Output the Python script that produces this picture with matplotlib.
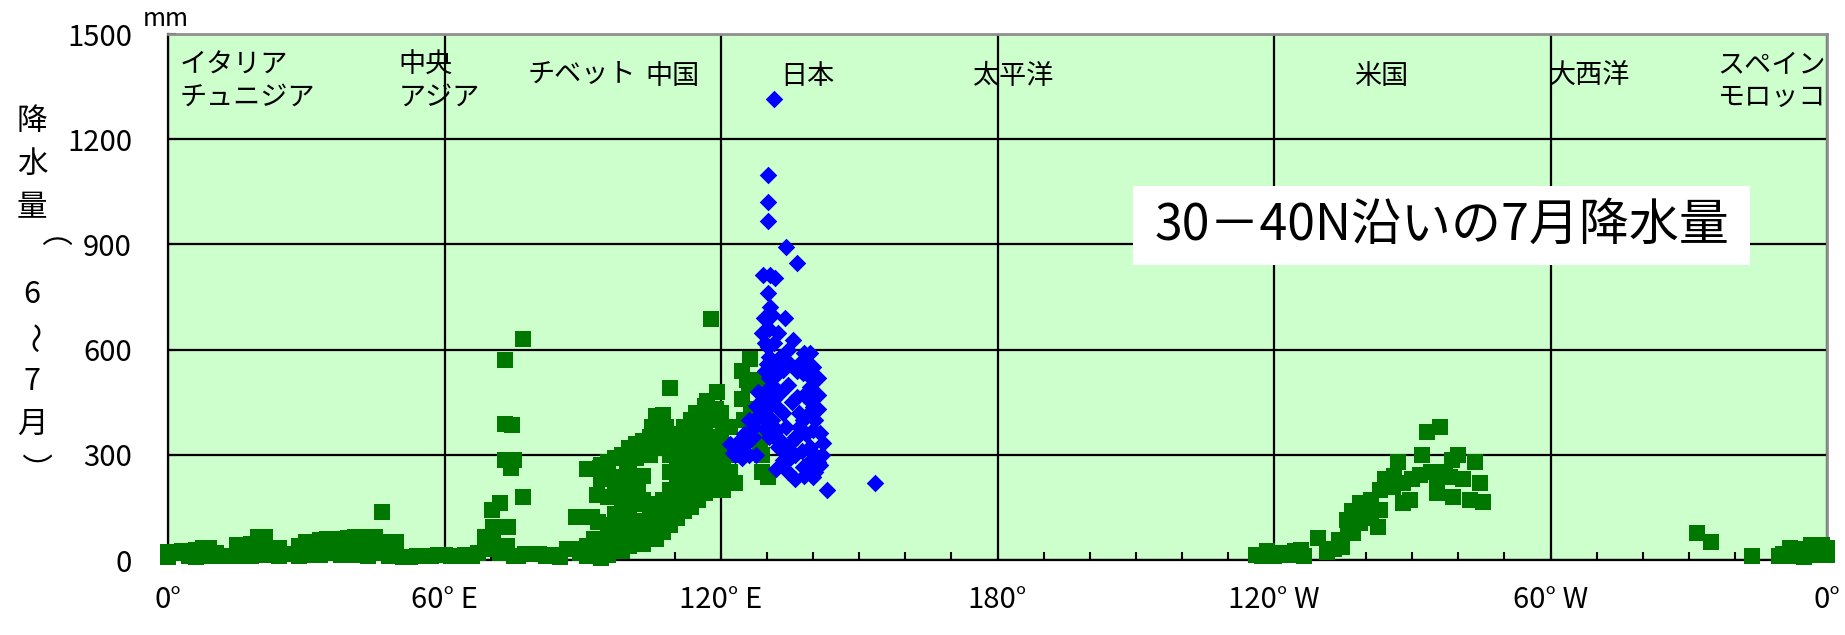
import matplotlib
matplotlib.use("Agg")
import matplotlib.pyplot as plt
from matplotlib.patches import Rectangle
from matplotlib.ticker import MultipleLocator

plt.rcParams['font.family'] = ['Noto Sans CJK JP', 'DejaVu Sans']

# --- data (longitude east 0-360, mm) ------------------------------------------
# Europe / N. Africa / Middle East, 0-62E
europe_lon = [0, 0, 1.5, 3, 4.5, 6, 6, 7.5, 9, 9, 10.5, 12, 13.5, 15, 15, 16.5, 18, 18,
              19.5, 19.5, 21, 21, 22.5, 24, 24, 25.5, 27, 28.5, 28.5, 30, 30, 31.5, 33, 33,
              34.5, 34.5, 36, 37.5, 37.5, 39, 39, 40.5, 40.5, 42, 42, 43.5, 43.5, 45, 45,
              46.4, 46.5, 48, 48, 49.5, 51, 52.5, 54, 55.5, 57, 58.5, 60, 61.5]
europe_mm = [8, 22, 20, 26, 10, 28, 8, 35, 35, 10, 20, 10, 12, 42, 12, 12, 45, 10,
             66, 20, 66, 15, 35, 35, 10, 18, 18, 40, 10, 52, 15, 50, 56, 15,
             59, 20, 59, 59, 15, 62, 20, 66, 15, 66, 20, 66, 12, 66, 20,
             136, 50, 50, 10, 50, 8, 8, 10, 12, 12, 15, 15, 12]

# Central Asia / Tibet, 62-92E
asia_lon = [63, 64.5, 66, 67.3, 68.8, 70.5, 70.5, 72, 73.8, 70.2, 72, 73.1, 74.6, 73.1,
            75.1, 74.4, 73.2, 77.1, 77.1, 70, 72, 73.5, 75, 76, 77.5, 79, 80.5, 82,
            83.5, 85, 86.5, 88, 89.5, 88.5, 90.9]
asia_mm = [10, 15, 12, 20, 66, 66, 93, 93, 93, 143, 163, 389, 385, 285,
           285, 261, 571, 630, 180, 30, 20, 40, 10, 10, 17, 17, 17, 12,
           15, 8, 30, 30, 20, 124, 124]

# China, 91-125E
china_lon = [91, 91, 91, 92.1, 92.5, 92.5, 92.5, 93, 93.4, 93.7, 94, 94, 94, 94,
             95.5, 95.5, 95.5, 95.5, 95.5, 96.6, 97, 97, 97, 97, 97,
             98.5, 98.5, 98.5, 98.5, 98.5, 98.5, 100, 100, 100, 100, 100, 100,
             101.5, 101.5, 101.5, 101.5, 101.5, 101.5, 103, 103, 103, 103, 103, 103,
             104.5, 104.5, 104.5, 104.5, 104.5, 106, 106, 106, 106, 106, 106,
             107.5, 107.5, 107.5, 107.5, 107.5, 109, 109, 109, 109, 109, 109, 109,
             110.5, 110.5, 110.5, 110.5, 110.5, 110.5, 112, 112, 112, 112, 112, 112,
             113.5, 113.5, 113.5, 113.5, 113.5, 113.5, 114.5, 115, 115, 115, 115, 115, 115,
             116.5, 116.5, 116.5, 116.5, 116.5, 116.5, 116.9, 118, 118, 118, 118, 118, 117.9,
             119.1, 119, 119, 119, 119, 120.5, 120.5, 120.5, 120.5, 121.1, 121.1, 122, 122,
             99.5, 99.5, 99.5, 102, 102, 102, 105, 105, 105, 108, 108, 108, 108,
             111, 111, 111, 114, 114, 114, 117, 117, 117, 120, 120, 120, 120]
china_mm = [10, 40, 260, 124, 20, 60, 260, 185, 109, 261, 5, 45, 230, 270,
            15, 60, 100, 180, 280, 238, 30, 70, 130, 200, 290,
            25, 80, 120, 170, 220, 300, 40, 90, 150, 210, 260, 320,
            50, 110, 160, 230, 290, 330, 45, 100, 170, 240, 300, 340,
            70, 120, 150, 300, 352, 60, 110, 160, 320, 370, 410,
            80, 130, 170, 340, 413, 100, 150, 200, 250, 300, 360, 490,
            120, 170, 210, 260, 310, 360, 140, 180, 230, 280, 330, 380,
            150, 200, 250, 300, 350, 400, 418, 170, 220, 270, 320, 370, 410,
            190, 240, 290, 340, 390, 440, 454, 200, 250, 300, 350, 400, 686,
            480, 230, 280, 330, 430, 200, 260, 320, 380, 223, 248, 250, 300,
            60, 180, 280, 80, 200, 310, 90, 330, 380, 110, 160, 320, 380,
            140, 230, 330, 190, 270, 350, 220, 320, 420, 240, 300, 350, 420]

# Korea and the coast next to Japan
korea_lon = [124.5, 126, 124.5, 126.5, 125, 127.5, 128.5, 129, 126.2, 125.6, 128.8,
             127.8, 128.5, 128.8, 130.3, 122, 123]
korea_mm = [540, 500, 460, 430, 400, 380, 340, 300, 574, 513, 513,
            352, 314, 252, 238, 380, 220]

# USA, 236-286E
us_lon = [236, 237.5, 238.5, 240, 241.5, 243, 244.5, 245.8, 246.5, 249.6, 251.5, 253,
          254.7, 254, 255.8, 256, 257, 257.2, 258.7, 258.7, 259.5, 260, 261, 261,
          262.5, 263, 263, 264, 265.9, 266, 267, 268.1, 268.1, 269.5, 270, 271.7,
          272.1, 273.2, 274, 275.3, 275.3, 276, 277, 278.2, 278.6, 278.9, 280, 281,
          282.6, 283.6, 284.7, 285.4]
us_mm = [15, 10, 25, 12, 20, 15, 25, 28, 10, 62, 24, 30,
         38, 57, 114, 90, 140, 77, 162, 105, 150, 130, 170, 120,
         95, 143, 200, 230, 209, 240, 280, 162, 219, 171, 230, 242,
         300, 366, 250, 228, 190, 380, 250, 238, 285, 181, 300, 230,
         171, 280, 219, 166]

# Iberia / Morocco, 330-360E
iberia_lon = [331.7, 334.8, 343.8, 349.5, 350.5, 352, 352, 353.5, 355, 355, 356.5,
              357.5, 358.5, 359, 360, 360]
iberia_mm = [76, 52, 10, 10, 17, 35, 10, 30, 27, 8, 42, 42, 15, 42, 15, 35]

# Japan stations (blue diamonds)
japan_lon = [131.4, 130.3, 130.3, 130.3, 134.0, 136.4,
             129.2, 130.6, 131.8, 130.1, 130.7, 129.3, 131, 133.9, 129, 130.5, 132.4,
             135.7, 130.3, 131.5,
             139.3, 140, 132.8, 133.5, 137.9, 131.4, 139.3, 132.8, 136.4, 129.2, 140,
             133.5, 127.8, 137.9, 127.1, 132.1, 141.5, 136.4, 124.1, 132.4, 139.3,
             122.7, 142.2, 133.5, 137.9, 140, 142.9, 153.4,
             130, 131, 130, 131, 134.5, 135, 134.5, 135.5, 134, 135, 136, 137, 138,
             138.5, 139, 140.5, 140.5, 141, 141, 138.5, 136.5,
             125.5, 126, 127, 128.5, 129.5, 123.5, 124.5, 132, 134.5, 136, 141.5, 139,
             129.5, 130.5, 129.5, 131.5, 130.5, 129.5, 131.5, 130.5, 132.5, 131.5,
             130.5, 129.8, 133, 134, 135, 136, 137, 137.5, 138.5, 139.5, 140, 141,
             137, 138, 139.5, 141, 142, 138, 140.5, 128, 127.5, 126, 125, 124, 123,
             122, 127.5, 126.5]
japan_mm = [1315, 1098, 1022, 968, 894, 846,
            813, 813, 805, 760, 722, 690, 700, 690, 647, 660, 647,
            627, 608, 620,
            590, 551, 580, 542, 533, 523, 494, 475, 466, 456, 437,
            418, 409, 399, 380, 371, 361, 352, 342, 323, 323,
            304, 333, 285, 266, 238, 200, 219,
            560, 500, 430, 400, 600, 560, 500, 450, 380, 330, 300, 420, 470,
            360, 280, 400, 300, 470, 520, 560, 540,
            330, 300, 350, 430, 400, 320, 290, 260, 250, 230, 270, 260,
            620, 580, 540, 560, 520, 480, 460, 440, 430, 350,
            350, 370, 340, 310, 290, 350, 380, 310, 410, 450, 370, 430,
            560, 590, 520, 280, 300, 240, 250, 480, 440, 400, 360, 320, 300,
            330, 300, 350]

xtick_pos = [0, 60, 120, 180, 240, 300, 360]
xtick_labels = ['0°', '60° E', '120° E', '180°', '120° W', '60° W', '0°']
ytick_pos = [0, 300, 600, 900, 1200, 1500]

region_names = ['イタリア\nチュニジア', '中央\nアジア', 'チベット', '中国', '日本',
                '太平洋', '米国', '大西洋', 'スペイン\nモロッコ']
region_lon = [2.6, 50.1, 78.1, 103.5, 132.8, 174.4, 257.4, 299.7, 336.3]
region_mm = [1365, 1365, 1386, 1380, 1380, 1380, 1380, 1380, 1365]

title = '30－40N沿いの7月降水量'
ylabel_chars = ['降', '水', '量', '（', '6', '～', '7', '月', '）']

# --- figure ---------------------------------------------------------------------
fig = plt.figure(figsize=(18.45, 6.35), dpi=100)
ax = fig.add_axes([168 / 1845, 1 - 560 / 635, 1659 / 1845, 526 / 635])
ax.set_facecolor('#ccffcc')
ax.set_xlim(0, 360)
ax.set_ylim(0, 1500)
ax.set_axisbelow(True)
ax.grid(True, which='major', color='black', linewidth=1.6)

green = '#007800'
for lon, mm in [(europe_lon, europe_mm), (asia_lon, asia_mm), (china_lon, china_mm),
                (korea_lon, korea_mm), (us_lon, us_mm), (iberia_lon, iberia_mm)]:
    ax.scatter(lon, mm, marker='s', s=125, color=green, linewidths=0,
               clip_on=False, zorder=3)
ax.scatter(japan_lon, japan_mm, marker='D', s=80, color='#0000ff', linewidths=0,
           clip_on=False, zorder=3.5)

ax.set_xticks(xtick_pos)
ax.set_xticklabels(xtick_labels)
ax.set_yticks(ytick_pos)
ax.xaxis.set_minor_locator(MultipleLocator(10))
ax.tick_params(axis='both', which='both', direction='in', color='black', width=1.5,
               labelsize=21)
ax.tick_params(axis='both', which='major', length=6)
ax.tick_params(axis='x', which='minor', length=6)
ax.tick_params(axis='x', pad=18)
ax.tick_params(axis='y', pad=26)

for side in ['left', 'bottom']:
    ax.spines[side].set_color('black')
    ax.spines[side].set_linewidth(1.6)
for side in ['top', 'right']:
    ax.spines[side].set_color('#909090')
    ax.spines[side].set_linewidth(2)

for name, lon, mm in zip(region_names, region_lon, region_mm):
    ax.text(lon, mm, name, ha='left', va='center', fontsize=19.5, linespacing=1.25,
            zorder=4)

# title box
ax.add_patch(Rectangle((209.4, 841), 133.9, 226, facecolor='white',
                       edgecolor='none', zorder=4))
ax.text(276.4, 954, title, ha='center', va='center', fontsize=36, zorder=5)

# unit and vertical y label
fig.text(166 / 1845, 1 - 19 / 635, 'mm', ha='center', va='center', fontsize=18)
for i, ch in enumerate(ylabel_chars):
    rot = -90 if ch in '（～）' else 0
    fig.text(32 / 1845, 1 - (121 + 43.4 * i) / 635, ch, ha='center', va='center',
             fontsize=22, rotation=rot)

fig.savefig('out.png', dpi=100, facecolor='white')
